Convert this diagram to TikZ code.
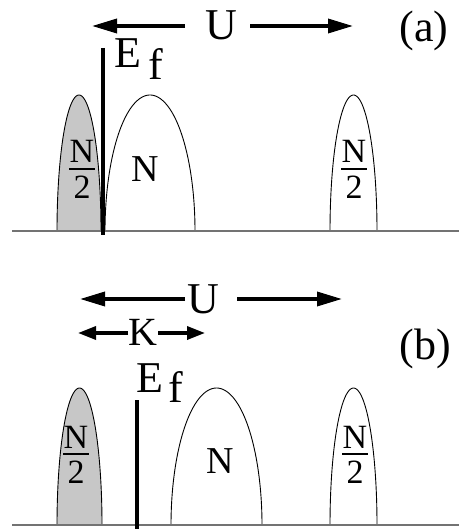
\documentclass[tikz,border=0pt]{standalone}
\usepackage{fontspec}
\setmainfont{Liberation Serif}
\usetikzlibrary{arrows.meta}
\begin{document}
\begin{tikzpicture}[x=1pt,y=-1pt,
 big/.style={font=\fontsize{44}{48}\selectfont, inner sep=0pt},
 lbl/.style={font=\fontsize{38}{40}\selectfont, inner sep=0pt, anchor=base},
 fr/.style={font=\fontsize{34}{36}\selectfont, inner sep=0pt, anchor=base},
 arr/.style={line width=3.5pt, -{Triangle[length=25pt,width=14pt]}},
 karr/.style={line width=3.5pt, -{Triangle[length=18pt,width=13pt]}},
 band/.style={line width=0.9pt},
 shaded/.style={band, fill=black!22},
 efline/.style={line width=3.2pt},
 axis/.style={line width=1.2pt, draw=black!55},
 fbar/.style={line width=1.3pt}
]
\useasboundingbox (0,0) rectangle (459,529);

% ================= panel (a) =================
\coordinate (a0) at (12,231);
\coordinate (a1) at (459,231);
\draw[shaded] plot[domain=180:0, samples=80] ({79+22*cos(\x)}, {231-136*sin(\x)}) -- cycle;
\draw[band] plot[domain=180:0, samples=80] ({150+45*cos(\x)}, {231-136*sin(\x)});
\draw[band] plot[domain=180:0, samples=80] ({353.5+23.5*cos(\x)}, {231-136*sin(\x)});
\draw[axis] (a0) -- (a1);
\coordinate (efAtop) at (103,48);
\coordinate (efAbot) at (103,235);
\draw[efline] (efAtop) -- (efAbot);
\node[big, anchor=base west] (EA) at (114,68) {E};
\node[big, anchor=base west] (fA) at (148,80) {f};
\node[big, anchor=base] (UA) at (221,40) {U};
\node[big, anchor=base] (labA) at (424,42) {(a)};
\coordinate (uaL1) at (185,26); \coordinate (uaL2) at (92,26);
\coordinate (uaR1) at (250,26); \coordinate (uaR2) at (353,26);
\draw[arr] (uaL1) -- (uaL2);
\draw[arr] (uaR1) -- (uaR2);
% labels in peaks
\node[fr] (nA1) at (82,163) {N};
\coordinate (bA1l) at (69,169); \coordinate (bA1r) at (95,169);
\draw[fbar] (bA1l) -- (bA1r);
\node[fr] (dA1) at (82,199) {2};
\node[lbl] (NA) at (145,182) {N};
\node[fr] (nA3) at (354,163) {N};
\coordinate (bA3l) at (341,169); \coordinate (bA3r) at (367,169);
\draw[fbar] (bA3l) -- (bA3r);
\node[fr] (dA3) at (354,199) {2};

% ================= panel (b) =================
\coordinate (b0) at (12,525);
\coordinate (b1) at (459,525);
\draw[shaded] plot[domain=180:0, samples=80] ({79.5+22.5*cos(\x)}, {525-137*sin(\x)}) -- cycle;
\draw[band] plot[domain=180:0, samples=80] ({216.5+45.5*cos(\x)}, {525-137*sin(\x)});
\draw[band] plot[domain=180:0, samples=80] ({353.5+23.5*cos(\x)}, {525-137*sin(\x)});
\draw[axis] (b0) -- (b1);
\coordinate (efBtop) at (137,400);
\coordinate (efBbot) at (137,529);
\draw[efline] (efBtop) -- (efBbot);
\node[big, anchor=base west] (EB) at (136,392) {E};
\node[big, anchor=base west] (fB) at (168,402) {f};
\node[big, anchor=base] (UB) at (203,313) {U};
\node[big, anchor=base, font=\fontsize{40}{44}\selectfont] (KB) at (143,345) {K};
\node[big, anchor=base] (labB) at (425,359) {(b)};
\coordinate (ubL1) at (185,299); \coordinate (ubL2) at (80,299);
\coordinate (ubR1) at (237,299); \coordinate (ubR2) at (342,299);
\draw[arr] (ubL1) -- (ubL2);
\draw[arr] (ubR1) -- (ubR2);
\coordinate (kL1) at (128,333); \coordinate (kL2) at (78,333);
\coordinate (kR1) at (158,333); \coordinate (kR2) at (205,333);
\draw[karr] (kL1) -- (kL2);
\draw[karr] (kR1) -- (kR2);
% labels in peaks
\node[fr] (nB1) at (76,448) {N};
\coordinate (bB1l) at (63,454); \coordinate (bB1r) at (89,454);
\draw[fbar] (bB1l) -- (bB1r);
\node[fr] (dB1) at (76,483) {2};
\node[lbl] (NB) at (220,473) {N};
\node[fr] (nB3) at (355,448) {N};
\coordinate (bB3l) at (342,454); \coordinate (bB3r) at (368,454);
\draw[fbar] (bB3l) -- (bB3r);
\node[fr] (dB3) at (355,483) {2};
\end{tikzpicture}
\end{document}
